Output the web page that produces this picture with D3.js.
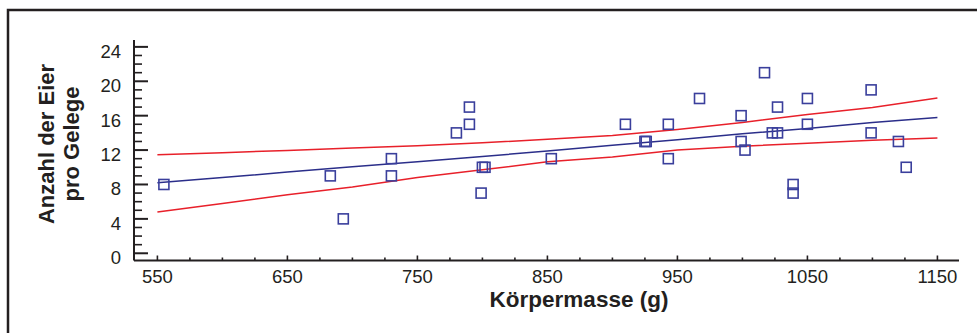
<!DOCTYPE html>
<html lang="de">
<head>
<meta charset="utf-8">
<style>
  html, body { margin: 0; padding: 0; background: #fff; }
  svg { display: block; font-family: "Liberation Sans", Arial, sans-serif; }
</style>
</head>
<body>
<div id="chart"></div>
<script src="https://d3js.org/d3.v7.min.js"></script>
<script>
// Beobachtungen: Koerpermasse (g) und Anzahl der Eier pro Gelege
var masse = [555, 683, 693, 730, 730, 780, 790, 790, 800, 802, 799, 853, 910, 925, 926, 943, 943,
             967, 999, 999, 1002, 1017, 1027, 1023, 1027, 1039, 1039, 1050, 1050, 1099, 1099, 1120, 1126];
var eier  = [8, 9, 4, 11, 9, 14, 17, 15, 10, 10, 7, 11, 15, 13, 13, 15, 11,
             18, 16, 13, 12, 21, 17, 14, 14, 8, 7, 18, 15, 19, 14, 13, 10];

// Regressionsgerade und Konfidenzband
var kurveX  = [550, 600, 650, 700, 750, 800, 850, 900, 950, 1000, 1050, 1100, 1150];
var mittel  = [8.2, 8.8, 9.45, 10.05, 10.65, 11.25, 11.9, 12.55, 13.2, 13.9, 14.5, 15.2, 15.8];
var oben    = [11.45, 11.7, 11.95, 12.25, 12.5, 12.85, 13.25, 13.7, 14.4, 15.2, 16.15, 16.95, 18.05];
var unten   = [4.8, 5.8, 6.8, 7.7, 8.8, 9.7, 10.65, 11.2, 12.0, 12.45, 12.8, 13.15, 13.4];

var xTicks = [550, 650, 750, 850, 950, 1050, 1150];
var yTicks = [0, 4, 8, 12, 16, 20, 24];

var width = 977, height = 333;

var svg = d3.select("#chart").append("svg")
    .attr("width", width)
    .attr("height", height);

// Rahmen
svg.append("rect")
    .attr("x", 8).attr("y", 10)
    .attr("width", 1100).attr("height", 400)
    .attr("fill", "none")
    .attr("stroke", "#231f20")
    .attr("stroke-width", 2.5);

var x = d3.scaleLinear().domain([532, 1166.6]).range([134, 959]);
var y = d3.scaleLinear().domain([-0.84, 24.8]).range([260.5, 40]);

var ink = "#231f20";

// Achsenlinien
svg.append("line")
    .attr("x1", x.range()[0]).attr("x2", x.range()[1])
    .attr("y1", y(-0.84)).attr("y2", y(-0.84))
    .attr("stroke", ink).attr("stroke-width", 2);
svg.append("line")
    .attr("x1", 134).attr("x2", 134)
    .attr("y1", y(-0.84)).attr("y2", y(24.8))
    .attr("stroke", ink).attr("stroke-width", 2);

// y Ticks (nach innen)
var yMinor = d3.range(0, 25, 1);
svg.selectAll(".ytick")
    .data(yMinor)
  .enter().append("line")
    .attr("x1", 134)
    .attr("x2", function(d) { return d % 4 == 0 ? 148 : 142; })
    .attr("y1", function(d) { return y(d); })
    .attr("y2", function(d) { return y(d); })
    .attr("stroke", ink)
    .attr("stroke-width", function(d) { return d % 4 == 0 ? 2 : 1.6; });

svg.selectAll(".ylab")
    .data(yTicks)
  .enter().append("text")
    .attr("x", 121)
    .attr("y", function(d) { return y(d) + 11; })
    .attr("text-anchor", "end")
    .attr("font-size", 18.5)
    .attr("fill", ink)
    .text(function(d) { return d; });

// x Ticks (nach innen)
var xMinor = d3.range(550, 1151, 25);
svg.selectAll(".xtick")
    .data(xMinor)
  .enter().append("line")
    .attr("x1", function(d) { return x(d); })
    .attr("x2", function(d) { return x(d); })
    .attr("y1", y(-0.84))
    .attr("y2", function(d) { return (d - 550) % 100 == 0 ? y(-0.84) - 5 : y(-0.84) - 3; })
    .attr("stroke", ink)
    .attr("stroke-width", 1.6);

svg.selectAll(".xlab")
    .data(xTicks)
  .enter().append("text")
    .attr("x", function(d) { return x(d); })
    .attr("y", 283)
    .attr("text-anchor", "middle")
    .attr("font-size", 18.5)
    .attr("fill", ink)
    .text(function(d) { return d; });

// Achsentitel
svg.append("text")
    .attr("x", 579).attr("y", 307)
    .attr("text-anchor", "middle")
    .attr("font-size", 22.5)
    .attr("font-weight", "bold")
    .attr("fill", ink)
    .text("Körpermasse (g)");

var yt = svg.append("text")
    .attr("transform", "translate(54,144) rotate(-90)")
    .attr("text-anchor", "middle")
    .attr("font-size", 22)
    .attr("font-weight", "bold")
    .attr("fill", ink);
yt.append("tspan").attr("x", 0).attr("dy", 0).text("Anzahl der Eier");
yt.append("tspan").attr("x", 0).attr("dy", 25).text("pro Gelege");

// Linien
var line = function(vals) {
  return d3.line()
    .x(function(d, i) { return x(kurveX[i]); })
    .y(function(d) { return y(d); })(vals);
};

svg.append("path").attr("d", line(oben))
    .attr("fill", "none").attr("stroke", "#e8202a").attr("stroke-width", 1.5);
svg.append("path").attr("d", line(unten))
    .attr("fill", "none").attr("stroke", "#e8202a").attr("stroke-width", 1.5);
svg.append("path").attr("d", line(mittel))
    .attr("fill", "none").attr("stroke", "#2b2e8a").attr("stroke-width", 1.5);

// Punkte
var s = 10;
svg.selectAll(".pt")
    .data(masse)
  .enter().append("rect")
    .attr("x", function(d) { return x(d) - s / 2; })
    .attr("y", function(d, i) { return y(eier[i]) - s / 2; })
    .attr("width", s)
    .attr("height", s)
    .attr("fill", "none")
    .attr("stroke", "#3a3f9c")
    .attr("stroke-width", 1.6);
</script>
</body>
</html>
